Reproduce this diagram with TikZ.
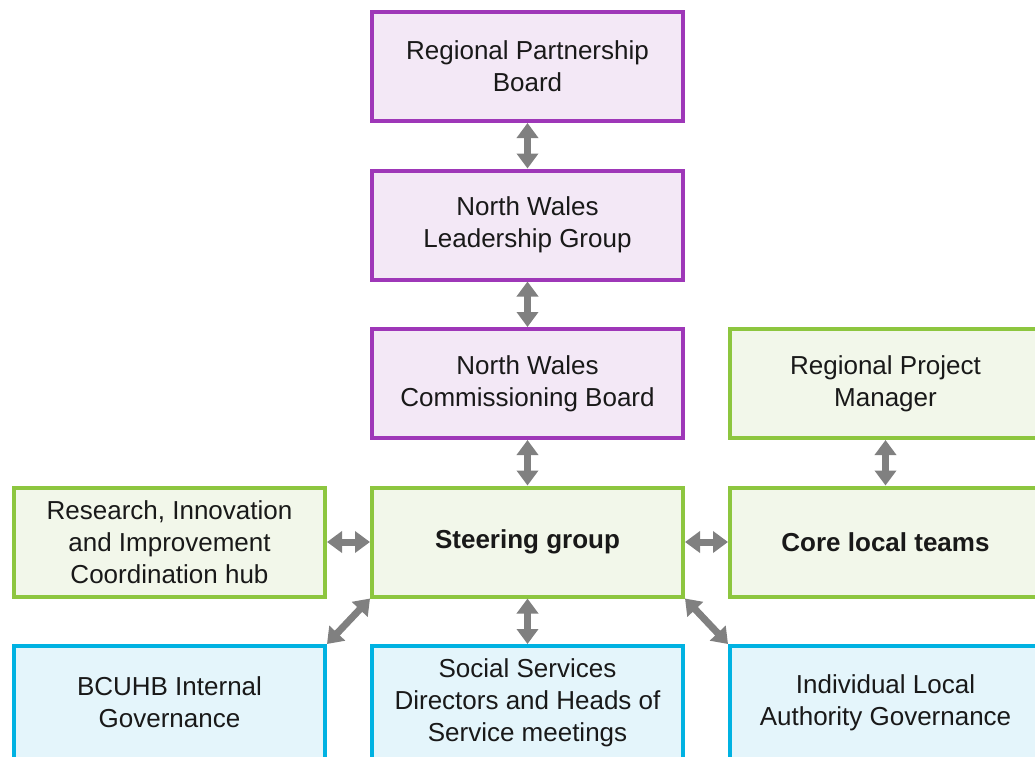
\documentclass[tikz,border=0pt]{standalone}
\usepackage{fontspec}
\setmainfont{Liberation Sans}
\usetikzlibrary{arrows.meta}
\definecolor{purpleline}{HTML}{9E37B8}
\definecolor{purplefill}{HTML}{F3E8F6}
\definecolor{greenline}{HTML}{8DC63F}
\definecolor{greenfill}{HTML}{F2F7EA}
\definecolor{blueline}{HTML}{00B2E2}
\definecolor{bluefill}{HTML}{E4F5FB}
\definecolor{linkgray}{HTML}{808080}

\begin{document}
\begin{tikzpicture}
	[x=1pt, y=-1pt,
	every node/.style={rectangle,draw,line width=4pt,align=center,
		minimum width=311pt,minimum height=109pt,inner sep=2pt,
		font=\fontsize{26}{32}\selectfont,text=black!90},
	purplebox/.style={draw=purpleline,fill=purplefill},
	greenbox/.style={draw=greenline,fill=greenfill},
	bluebox/.style={draw=blueline,fill=bluefill,minimum height=113pt},
	link/.style={{Triangle[width=21pt,length=15pt]}-{Triangle[width=21pt,length=15pt]},
		draw=linkgray,line width=7pt}]
	\useasboundingbox (0,0) rectangle (1035,756);
	\node (rpb) [purplebox] at (527.5,66.5) {Regional Partnership\\Board};
	\node (nwlg) [purplebox] at (527.5,225) {North Wales\\Leadership Group};
	\node (nwcb) [purplebox] at (527.5,383.5) {North Wales\\Commissioning Board};
	\node (rpm) [greenbox] at (885.5,383.5) {Regional Project\\Manager};
	\node (riic) [greenbox] at (169.5,542) {Research, Innovation\\and Improvement\\Coordination hub};
	\node (steer) [greenbox] at (527.5,542) {\textbf{Steering group}};
	\node (core) [greenbox] at (885.5,542) {\textbf{Core local teams}};
	\node (bcuhb) [bluebox] at (169.5,702.5) {BCUHB Internal\\Governance};
	\node (social) [bluebox] at (527.5,702.5) {Social Services\\Directors and Heads of\\Service meetings};
	\node (local) [bluebox] at (885.5,702.5) {Individual Local\\Authority Governance};
	\draw [link] (rpb) -- (nwlg);
	\draw [link] (nwlg) -- (nwcb);
	\draw [link] (nwcb) -- (steer);
	\draw [link] (rpm) -- (core);
	\draw [link] (riic) -- (steer);
	\draw [link] (steer) -- (core);
	\draw [link] (steer) -- (social);
	\draw [link] (steer.south west) -- (bcuhb.north east);
	\draw [link] (steer.south east) -- (local.north west);
\end{tikzpicture}
\end{document}
